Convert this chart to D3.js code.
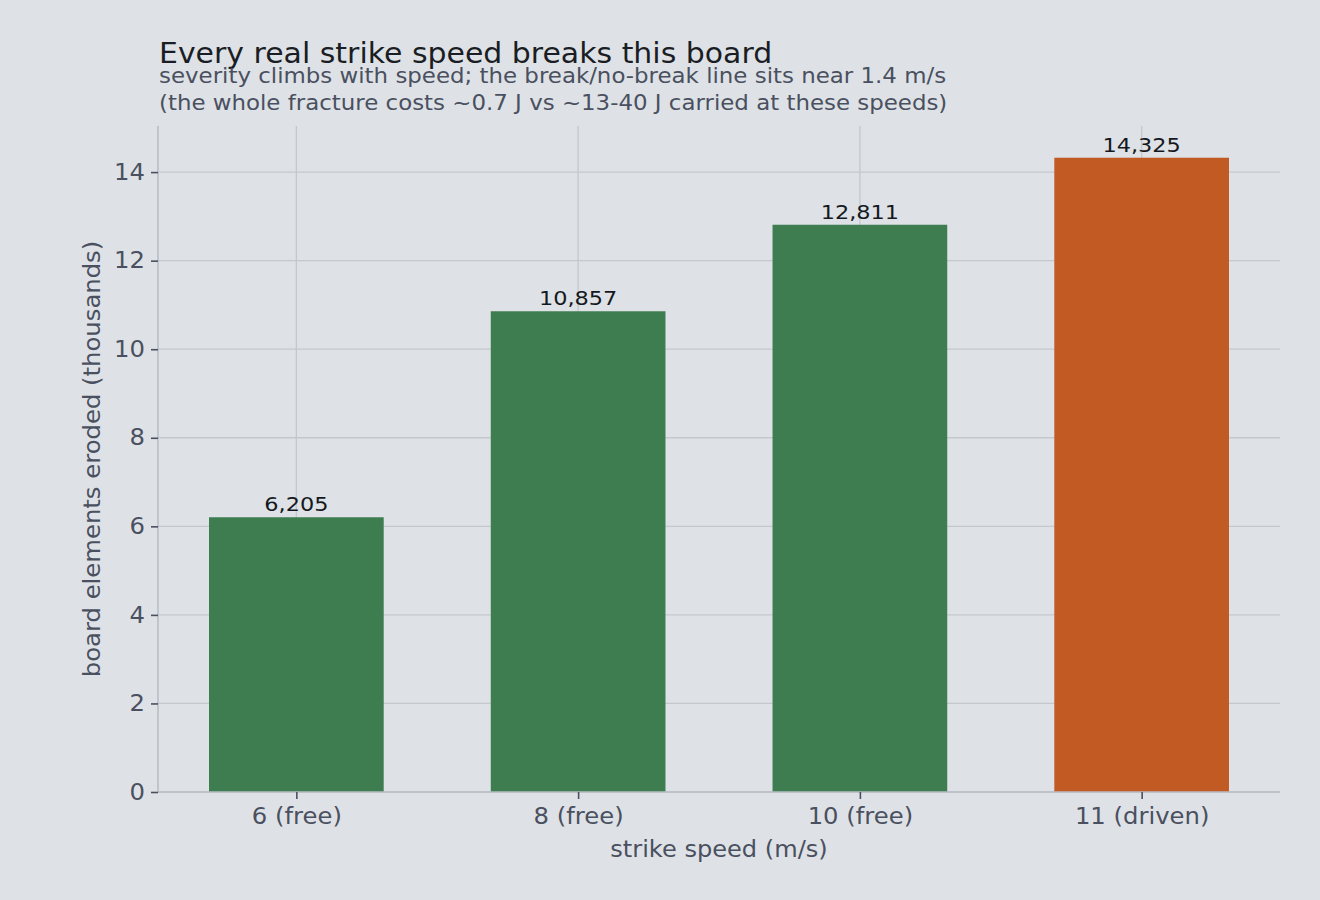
<!DOCTYPE html>
<html>
<head>
<meta charset="utf-8">
<script src="https://cdn.jsdelivr.net/npm/d3@7"></script>
<style>
  body { margin: 0; background: #dee2e6; }
  svg text { font-family: 'DejaVu Sans', 'Bitstream Vera Sans', Verdana, sans-serif; }
</style>
</head>
<body>
<svg id="chart" width="1320" height="900"></svg>
<script>
const categories = ["6 (free)", "8 (free)", "10 (free)", "11 (driven)"];
const eroded = [6205, 10857, 12811, 14325];
const driven = [false, false, false, true];
const yTicks = [0, 2, 4, 6, 8, 10, 12, 14];

const svg = d3.select('#chart');
const plotL = 158, plotR = 1280, plotT = 126, plotB = 792;

// stretch text a bit, the fallback face runs narrower than DejaVu
function widen(sel, k) {
  sel.each(function () {
    const len = this.getComputedTextLength();
    d3.select(this).attr('textLength', len * k).attr('lengthAdjust', 'spacingAndGlyphs');
  });
}

svg.append('rect').attr('width', 1320).attr('height', 900).attr('fill', '#dee2e6');

const barW = 0.62;
const x = d3.scaleLinear()
      .domain([-0.491, categories.length - 1 + 0.491])
      .range([plotL, plotR]);
const y = d3.scaleLinear()
      .domain([0, d3.max(eroded) / 1000 * 1.05])
      .range([plotB, plotT]);

// grid
svg.append('g').selectAll('line.hg')
  .data(yTicks).enter().append('line')
  .attr('x1', plotL).attr('x2', plotR)
  .attr('y1', d => y(d)).attr('y2', d => y(d))
  .attr('stroke', '#c3c8ce').attr('stroke-width', 1.3);
svg.append('g').selectAll('line.vg')
  .data(categories).enter().append('line')
  .attr('x1', (d, i) => x(i)).attr('x2', (d, i) => x(i))
  .attr('y1', plotT).attr('y2', plotB)
  .attr('stroke', '#c3c8ce').attr('stroke-width', 1.3);

// bars
svg.append('g').selectAll('rect')
  .data(eroded).enter().append('rect')
  .attr('x', (d, i) => x(i - barW / 2))
  .attr('width', (d, i) => x(i + barW / 2) - x(i - barW / 2))
  .attr('y', d => y(d / 1000))
  .attr('height', d => y(0) - y(d / 1000))
  .attr('fill', (d, i) => driven[i] ? '#c25a24' : '#3e7d4f');

const valueLabels = svg.append('g').selectAll('text')
  .data(eroded).enter().append('text')
  .attr('x', (d, i) => x(i))
  .attr('y', d => y(d / 1000) - 6)
  .attr('text-anchor', 'middle')
  .attr('font-size', 20)
  .attr('fill', '#15191e')
  .text(d => d3.format(',')(d));
widen(valueLabels, 1.12);

// axes
const yAxis = svg.append('g')
  .attr('transform', `translate(${plotL},0)`)
  .call(d3.axisLeft(y).tickValues(yTicks).tickSize(7).tickPadding(6).tickFormat(d3.format('d')));
const xAxis = svg.append('g')
  .attr('transform', `translate(0,${plotB})`)
  .call(d3.axisBottom(x).tickValues(d3.range(categories.length)).tickSize(7).tickPadding(9)
        .tickFormat(i => categories[i]));

[yAxis, xAxis].forEach(g => {
  g.attr('font-family', null);
  g.select('.domain').attr('stroke', '#b8bec6').attr('stroke-width', 1.6);
  g.selectAll('.tick line').attr('stroke', '#4a5060').attr('stroke-width', 1.6);
  g.selectAll('.tick text').attr('fill', '#4a5060').attr('font-size', 22.5);
  widen(g.selectAll('.tick text'), 1.08);
});
xAxis.select('.domain').attr('d', `M${plotL},0H${plotR}`);
yAxis.select('.domain').attr('d', `M0,${plotB}V${plotT}`);

// labels
const xLabel = svg.append('text')
  .attr('x', (plotL + plotR) / 2).attr('y', 857)
  .attr('text-anchor', 'middle').attr('font-size', 22.5).attr('fill', '#4a5060')
  .text('strike speed (m/s)');
const yLabel = svg.append('text')
  .attr('transform', `translate(100,${(plotT + plotB) / 2}) rotate(-90)`)
  .attr('text-anchor', 'middle').attr('font-size', 22.5).attr('fill', '#4a5060')
  .text('board elements eroded (thousands)');
widen(xLabel, 1.07);
widen(yLabel, 1.08);

const title = svg.append('text')
  .attr('x', 159).attr('y', 63)
  .attr('font-size', 28.5).attr('fill', '#1a1e24')
  .text('Every real strike speed breaks this board');
const sub1 = svg.append('text')
  .attr('x', 159).attr('y', 83)
  .attr('font-size', 21).attr('fill', '#4a5060')
  .text('severity climbs with speed; the break/no-break line sits near 1.4 m/s');
const sub2 = svg.append('text')
  .attr('x', 159).attr('y', 110)
  .attr('font-size', 21).attr('fill', '#4a5060')
  .text('(the whole fracture costs ~0.7 J vs ~13-40 J carried at these speeds)');
widen(title, 1.05);
widen(sub1, 1.09);
widen(sub2, 1.09);
</script>
</body>
</html>
